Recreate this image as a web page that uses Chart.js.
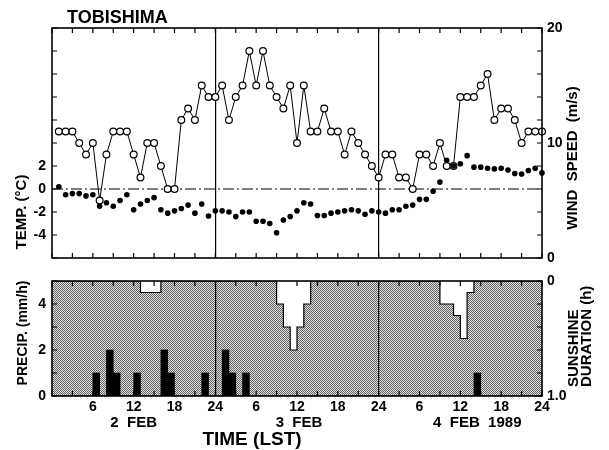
<!DOCTYPE html>
<html>
<head>
<meta charset="utf-8">
<script src="https://cdn.jsdelivr.net/npm/chart.js@4.4.1/dist/chart.umd.min.js"></script>
<style>
  html, body { margin: 0; padding: 0; background: #fff; }
  #wrap { position: relative; width: 609px; height: 450px; overflow: hidden; }
  #top { position: absolute; left: 0; top: 0; }
  #bot { position: absolute; left: 0; top: 260px; }
</style>
</head>
<body>
<div id="wrap">
  <canvas id="top" width="609" height="280" style="width:609px;height:280px"></canvas>
  <canvas id="bot" width="609" height="190" style="width:609px;height:190px"></canvas>
</div>
<script>
// hourly values, 2 Feb 01 LST .. 5 Feb 00 LST (hour 1..72)
const hours = Array.from({ length: 72 }, (_, i) => i + 1);

const windSpeed = [
  11, 11, 11, 10, 9, 10, 5, 9, 11, 11, 11, 9, 7, 10, 10, 8, 6, 6, 12, 13, 12, 15, 14, 14,
  15, 12, 14, 15, 18, 15, 18, 15, 14, 13, 15, 10, 15, 11, 11, 13, 11, 11, 9, 11, 10, 9, 8, 7,
  9, 9, 7, 7, 6, 9, 9, 8, 10, 8, 8, 14, 14, 14, 15, 16, 12, 13, 13, 12, 10, 11, 11, 11
];

const temperature = [
  0.2, -0.5, -0.4, -0.4, -0.6, -0.5, -1.5, -1.2, -1.5, -1.0, -0.5, -1.8,
  -1.3, -1.0, -0.75, -1.8, -2.1, -1.9, -1.7, -1.4, -2.1, -1.3, -2.35, -1.9,
  -1.9, -2.0, -2.4, -2.0, -2.0, -2.8, -2.8, -3.0, -3.8, -2.7, -2.4, -1.9,
  -1.2, -1.3, -2.3, -2.3, -2.1, -2.0, -1.9, -1.8, -1.9, -2.2, -1.9, -2.0,
  -2.1, -1.8, -1.8, -1.5, -1.4, -0.9, -0.9, -0.2, 0.6, 2.5, 2.0, 2.2,
  2.9, 1.9, 1.9, 1.8, 1.75, 1.8, 1.65, 1.35, 1.3, 1.6, 1.8, 1.4
];

// hourly totals for the hour ending at each hour
const precip = [
  0, 0, 0, 0, 0, 0, 1, 0, 2, 1, 0, 0, 1, 0, 0, 0, 2, 1, 0, 0, 0, 0, 1, 0,
  0, 2, 1, 0, 1, 0, 0, 0, 0, 0, 0, 0, 0, 0, 0, 0, 0, 0, 0, 0, 0, 0, 0, 0,
  0, 0, 0, 0, 0, 0, 0, 0, 0, 0, 0, 0, 0, 0, 1, 0, 0, 0, 0, 0, 0, 0, 0, 0
];

const sunshine = [
  0, 0, 0, 0, 0, 0, 0, 0, 0, 0, 0, 0, 0, 0.1, 0.1, 0.1, 0, 0, 0, 0, 0, 0, 0, 0,
  0, 0, 0, 0, 0, 0, 0, 0, 0, 0.2, 0.4, 0.6, 0.4, 0.2, 0, 0, 0, 0, 0, 0, 0, 0, 0, 0,
  0, 0, 0, 0, 0, 0, 0, 0, 0, 0.2, 0.2, 0.3, 0.5, 0.1, 0, 0, 0, 0, 0, 0, 0, 0, 0, 0
];

const tempLabels = [-4, -2, 0, 2];
const windLabels = [0, 10, 20];
const precipLabels = [0, 2, 4];

const FONT = '"Liberation Sans", Arial, sans-serif';
const tickFont = { family: FONT, size: 14, weight: 'bold' };

function hourLabel(v) {
  if (v === 0 || v % 6) return '';
  return String(v % 24 === 0 ? 24 : v % 24);
}

function dayLine(c) {
  const v = c.tick ? c.tick.value : -1;
  return (v === 24 || v === 48) ? '#000' : 'rgba(0,0,0,0)';
}

function stipple() {
  const c = document.createElement('canvas');
  c.width = 2; c.height = 2;
  const g = c.getContext('2d');
  g.fillStyle = '#e2e2e2';
  g.fillRect(0, 0, 2, 2);
  g.fillStyle = '#626262';
  g.fillRect(0, 0, 1, 1);
  g.fillRect(1, 1, 1, 1);
  return c;
}

function drawText(ctx, t) {
  ctx.save();
  ctx.font = 'bold ' + t.size + 'px ' + FONT;
  ctx.fillStyle = '#000';
  ctx.textBaseline = 'middle';
  ctx.textAlign = t.align || 'center';
  ctx.translate(t.x, t.y);
  if (t.rot) ctx.rotate(-Math.PI / 2);
  ctx.fillText(t.text, 0, 0);
  ctx.restore();
}

// frame, inward tick marks, background and free texts
const framePlugin = {
  id: 'frame',
  beforeDraw(chart, args, opts) {
    if (!opts.pattern) return;
    const { ctx, chartArea: a } = chart;
    ctx.save();
    ctx.fillStyle = ctx.createPattern(stipple(), 'repeat');
    ctx.fillRect(a.left, a.top, a.width, a.height);
    ctx.restore();
  },
  beforeDatasetsDraw(chart, args, opts) {
    if (!opts.zeroLine) return;
    const { ctx, chartArea: a } = chart;
    const y = chart.scales[opts.zeroLine].getPixelForValue(0);
    ctx.save();
    ctx.strokeStyle = '#000';
    ctx.lineWidth = 1.2;
    ctx.setLineDash([11, 3, 2, 3]);
    ctx.beginPath();
    ctx.moveTo(a.left, y);
    ctx.lineTo(a.right, y);
    ctx.stroke();
    ctx.restore();
  },
  afterDatasetsDraw(chart) {
    const { ctx, chartArea: a } = chart;
    const len = 5;
    ctx.save();
    ctx.strokeStyle = '#000';
    ctx.lineWidth = 1.2;
    ctx.beginPath();
    Object.values(chart.scales).forEach(s => {
      s.ticks.forEach(t => {
        const p = s.getPixelForValue(t.value);
        if (s.isHorizontal()) {
          ctx.moveTo(p, a.top); ctx.lineTo(p, a.top + len);
          ctx.moveTo(p, a.bottom); ctx.lineTo(p, a.bottom - len);
        } else if (s.position === 'left') {
          ctx.moveTo(a.left, p); ctx.lineTo(a.left + len, p);
        } else {
          ctx.moveTo(a.right, p); ctx.lineTo(a.right - len, p);
        }
      });
    });
    ctx.stroke();
    ctx.lineWidth = 1.6;
    ctx.strokeRect(a.left, a.top, a.width, a.height);
    ctx.restore();
  },
  afterDraw(chart, args, opts) {
    if (opts.texts) opts.texts(chart).forEach(t => drawText(chart.ctx, t));
  }
};

const topChart = new Chart(document.getElementById('top'), {
  type: 'line',
  data: {
    datasets: [
      {
        label: 'TEMP',
        data: hours.map((h, i) => ({ x: h, y: temperature[i] })),
        yAxisID: 'temp',
        showLine: false,
        pointRadius: 2.8,
        pointBackgroundColor: '#000',
        pointBorderColor: '#000',
        pointBorderWidth: 0,
        clip: false
      },
      {
        label: 'WIND SPEED',
        data: hours.map((h, i) => ({ x: h, y: windSpeed[i] })),
        yAxisID: 'wind',
        borderColor: '#000',
        borderWidth: 1,
        tension: 0,
        pointRadius: 3.4,
        pointBackgroundColor: '#fff',
        pointBorderColor: '#000',
        pointBorderWidth: 1.2,
        clip: false
      }
    ]
  },
  options: {
    responsive: false,
    animation: false,
    layout: { padding: { top: 28 } },
    plugins: {
      legend: { display: false },
      tooltip: { enabled: false },
      frame: {
        zeroLine: 'temp',
        texts: () => [
          { text: 'TOBISHIMA', x: 67, y: 18, size: 18, align: 'left' },
          { text: 'TEMP. (°C)', x: 22, y: 212, size: 15, rot: true },
          { text: 'WIND  SPEED  (m/s)', x: 573, y: 158, size: 15, rot: true }
        ]
      }
    },
    scales: {
      x: {
        type: 'linear', min: 0, max: 72,
        ticks: { stepSize: 3, display: false, autoSkip: false },
        grid: { color: dayLine, lineWidth: 1.2, drawTicks: false },
        border: { display: false },
        afterFit(s) { s.height = 22; }
      },
      temp: {
        type: 'linear', position: 'left', min: -6, max: 14,
        ticks: {
          stepSize: 2, autoSkip: false, padding: 6, color: '#000', font: tickFont,
          callback: v => tempLabels.includes(v) ? String(v) : ''
        },
        grid: { display: false, drawTicks: false },
        border: { display: false },
        afterFit(s) { s.width = 52; }
      },
      wind: {
        type: 'linear', position: 'right', min: 0, max: 20,
        ticks: {
          stepSize: 2, autoSkip: false, padding: 5, color: '#000', font: tickFont,
          callback: v => windLabels.includes(v) ? String(v) : ''
        },
        grid: { display: false, drawTicks: false },
        border: { display: false },
        afterFit(s) { s.width = 67; }
      }
    }
  },
  plugins: [framePlugin]
});

const sunSteps = hours.map((h, i) => ({ x: h - 1, y: sunshine[i] }));
sunSteps.push({ x: 72, y: sunshine[71] });

const botChart = new Chart(document.getElementById('bot'), {
  type: 'line',
  data: {
    datasets: [
      {
        type: 'bar',
        label: 'PRECIP',
        data: hours.map((h, i) => ({ x: h - 0.5, y: precip[i] })),
        yAxisID: 'precip',
        backgroundColor: '#000',
        borderWidth: 0,
        barPercentage: 1,
        categoryPercentage: 1
      },
      {
        type: 'line',
        label: 'SUNSHINE',
        data: sunSteps,
        yAxisID: 'sun',
        stepped: true,
        fill: { value: 0 },
        backgroundColor: '#fff',
        borderColor: '#000',
        borderWidth: 1.2,
        pointRadius: 0
      }
    ]
  },
  options: {
    responsive: false,
    animation: false,
    layout: { padding: { top: 21 } },
    plugins: {
      legend: { display: false },
      tooltip: { enabled: false },
      frame: {
        pattern: true,
        texts: chart => {
          const x = chart.scales.x;
          return [
            { text: 'PRECIP. (mm/h)', x: 23, y: 73, size: 14, rot: true },
            { text: 'SUNSHINE', x: 574, y: 127, size: 15, rot: true, align: 'left' },
            { text: 'DURATION (h)', x: 587, y: 127, size: 15, rot: true, align: 'left' },
            { text: '2  FEB', x: x.getPixelForValue(12), y: 163, size: 15 },
            { text: '3  FEB', x: x.getPixelForValue(36) + 2, y: 163, size: 15 },
            { text: '4  FEB  1989', x: x.getPixelForValue(56), y: 163, size: 15, align: 'left' },
            { text: 'TIME (LST)', x: 252, y: 180, size: 19 }
          ];
        }
      }
    },
    scales: {
      x: {
        type: 'linear', min: 0, max: 72, offset: false,
        ticks: {
          stepSize: 3, autoSkip: false, maxRotation: 0, padding: 3,
          color: '#000', font: tickFont, callback: v => hourLabel(v)
        },
        grid: { color: dayLine, lineWidth: 1.2, drawTicks: false, offset: false },
        border: { display: false },
        afterFit(s) { s.height = 54; }
      },
      precip: {
        type: 'linear', position: 'left', min: 0, max: 5,
        ticks: {
          stepSize: 1, autoSkip: false, padding: 6, color: '#000', font: tickFont,
          callback: v => precipLabels.includes(v) ? String(v) : ''
        },
        grid: { display: false, drawTicks: false },
        border: { display: false },
        afterFit(s) { s.width = 52; }
      },
      sun: {
        type: 'linear', position: 'right', min: 0, max: 1, reverse: true,
        ticks: {
          stepSize: 0.2, autoSkip: false, padding: 5, color: '#000', font: tickFont,
          callback: v => v === 0 ? '0' : (Math.abs(v - 1) < 1e-6 ? '1.0' : '')
        },
        grid: { display: false, drawTicks: false },
        border: { display: false },
        afterFit(s) { s.width = 67; }
      }
    }
  },
  plugins: [framePlugin]
});
</script>
</body>
</html>
